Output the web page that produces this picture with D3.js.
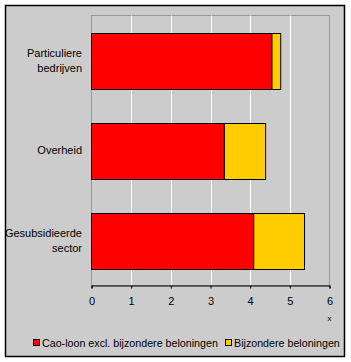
<!DOCTYPE html>
<html><head><meta charset="utf-8">
<script src="https://cdn.jsdelivr.net/npm/d3@7"></script>
<style>body{margin:0;background:#fff}svg{display:block}text{font-family:Arial,"Liberation Sans",sans-serif;fill:#000}</style>
</head><body>
<svg id="c" width="351" height="362"></svg>
<script>
const categories = [["Particuliere","bedrijven"],["Overheid"],["Gesubsidieerde","sector"]];
const caoLoon = [4.55, 3.35, 4.09];
const bijzondere = [0.22, 1.04, 1.28];
const seriesNames = ["Cao-loon excl. bijzondere beloningen", "Bijzondere beloningen"];
const seriesColors = ["#ff0000", "#ffcc00"];
const xTicks = [0,1,2,3,4,5,6];

const svg = d3.select("#c");
svg.append("rect").attr("x",5.5).attr("y",5.5).attr("width",339).attr("height",351)
  .attr("fill","#cccccc").attr("stroke","#000").attr("stroke-width",1.5);

const L=91.5, R=329.5, T=15.5, B=285.5;
const x = d3.scaleLinear().domain([0,6]).range([L,R]);
const y = d3.scaleBand().domain(d3.range(categories.length)).range([T,B]).paddingInner(0.378).paddingOuter(0.189);

svg.append("rect").attr("x",L).attr("y",T).attr("width",R-L).attr("height",B-T)
  .attr("fill","none").attr("stroke","#999").attr("stroke-width",1);
svg.selectAll(".g").data(xTicks.slice(1,-1)).join("line")
  .attr("x1",d=>Math.round(x(d))+0.5).attr("x2",d=>Math.round(x(d))+0.5).attr("y1",T).attr("y2",B)
  .attr("stroke","#fff").attr("stroke-width",1);

const stacked = d3.stack().keys([0,1])(categories.map((c,i)=>({0:caoLoon[i],1:bijzondere[i]})));
stacked.forEach((s,si)=>{
  svg.selectAll(".b"+si).data(s).join("rect")
    .attr("x",d=>x(d[0])).attr("width",d=>x(d[1])-x(d[0]))
    .attr("y",(d,i)=>Math.round(y(i))+0.5).attr("height",Math.round(y.bandwidth()))
    .attr("fill",seriesColors[si]).attr("stroke","#000").attr("stroke-width",1);
});

const ax = svg.append("g").attr("transform",`translate(0,${B})`)
  .call(d3.axisBottom(x).tickValues(xTicks).tickSize(3).tickPadding(9).tickFormat(d3.format("d")));
ax.select(".domain").attr("stroke","#000");
ax.selectAll(".tick line").attr("stroke","#000");
ax.selectAll("text").attr("font-size","11px").attr("font-family","Arial,'Liberation Sans',sans-serif");

svg.append("text").attr("x",x(6)).attr("y",321).attr("text-anchor","middle").attr("font-size","8px").text("x");

categories.forEach((lines,i)=>{
  const cy = y(i)+y.bandwidth()/2;
  const n = lines.length;
  lines.forEach((t,j)=>{
    svg.append("text").attr("x",82).attr("y",cy+(j-(n-1)/2)*15.6).attr("dy","0.35em")
      .attr("text-anchor","end").attr("font-size","11px").text(t);
  });
});

const lg = [{x:33,name:seriesNames[0],c:seriesColors[0]},{x:225,name:seriesNames[1],c:seriesColors[1]}];
lg.forEach(d=>{
  svg.append("rect").attr("x",d.x+0.5).attr("y",339.5).attr("width",6).attr("height",6)
    .attr("fill",d.c).attr("stroke","#000").attr("stroke-width",1);
  svg.append("text").attr("x",d.x+9).attr("y",343).attr("dy","0.35em").attr("font-size","10.7px").text(d.name);
});
</script>
</body></html>
